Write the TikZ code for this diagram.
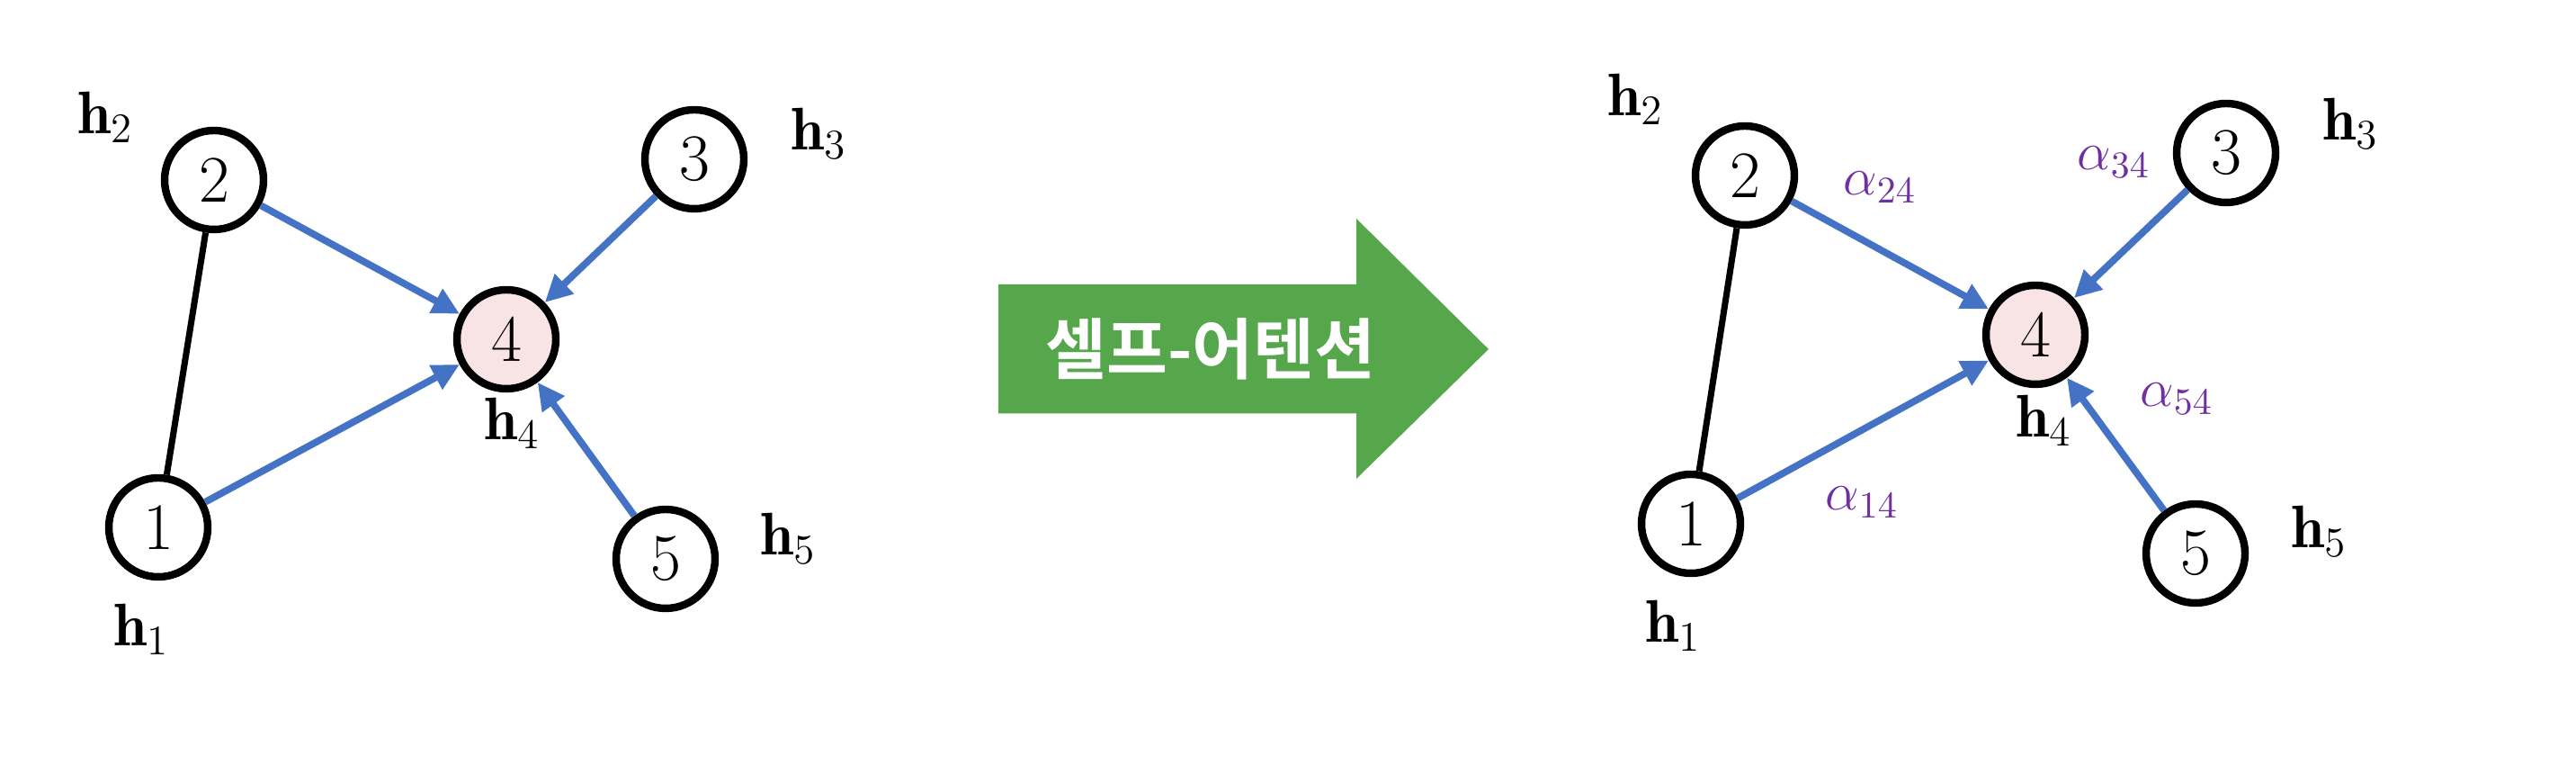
\documentclass[tikz,border=0pt]{standalone}
\usepackage{fix-cm}
\usepackage{amsmath}
\usepackage{fontspec}
\newfontfamily\kofont{Noto Sans CJK KR}[BoldFont={Noto Sans CJK KR Bold}]
\usetikzlibrary{arrows.meta}

\definecolor{edgeblue}{RGB}{68,114,196}
\definecolor{selfpink}{RGB}{248,228,228}
\definecolor{weightpurple}{RGB}{112,48,160}
\definecolor{shiftgreen}{RGB}{86,166,76}

\tikzset{
  vtx/.style={circle, draw, line width=2.4pt, minimum size=1.1cm, inner sep=0pt,
    font=\fontsize{21}{25}\selectfont},
  target/.style={vtx, fill=selfpink},
  attn/.style={draw=edgeblue, line width=2.2pt, -{Triangle[length=3mm,width=2.9mm]}},
  plain/.style={draw=black, line width=2pt},
  hlbl/.style={font=\fontsize{19}{23}\selectfont},
  wlbl/.style={text=weightpurple, font=\fontsize{17}{20}\selectfont},
}

\begin{document}
\begin{tikzpicture}
  \useasboundingbox (0,0) rectangle (28.64,8.5);

  \node [vtx] (l1) at (1.76,2.64) {1};
  \node [vtx] (l2) at (2.38,6.50) {2};
  \node [vtx] (l3) at (7.72,6.73) {3};
  \node [target] (l4) at (5.63,4.73) {4};
  \node [vtx] (l5) at (7.40,2.29) {5};

  \node [hlbl] (lh1) at (1.57,1.51) {$\mathbf{h}_1$};
  \node [hlbl] (lh2) at (1.17,7.20) {$\mathbf{h}_2$};
  \node [hlbl] (lh3) at (9.10,7.02) {$\mathbf{h}_3$};
  \node [hlbl] (lh4) at (5.69,3.80) {$\mathbf{h}_4$};
  \node [hlbl] (lh5) at (8.76,2.52) {$\mathbf{h}_5$};

  \draw [plain] (l1) -- (l2);
  \draw [attn] (l2) -- (l4);
  \draw [attn] (l3) -- (l4);
  \draw [attn] (l1) -- (l4);
  \draw [attn] (l5) -- (l4);

  \fill [shiftgreen] (11.10,3.905) -- (11.10,5.34) -- (15.08,5.34) -- (15.08,6.07)
    -- (16.55,4.62) -- (15.08,3.18) -- (15.08,3.905) -- cycle;
  \node [text=white, font=\kofont\bfseries\fontsize{21}{25}\selectfont] (shift) at (13.46,4.62) {셀프-어텐션};

  \node [vtx] (r1) at (18.80,2.68) {1};
  \node [vtx] (r2) at (19.40,6.55) {2};
  \node [vtx] (r3) at (24.75,6.80) {3};
  \node [target] (r4) at (22.63,4.78) {4};
  \node [vtx] (r5) at (24.41,2.35) {5};

  \node [hlbl] (rh1) at (18.60,1.55) {$\mathbf{h}_1$};
  \node [hlbl] (rh2) at (18.18,7.40) {$\mathbf{h}_2$};
  \node [hlbl] (rh3) at (26.13,7.13) {$\mathbf{h}_3$};
  \node [hlbl] (rh4) at (22.72,3.83) {$\mathbf{h}_4$};
  \node [hlbl] (rh5) at (25.78,2.60) {$\mathbf{h}_5$};

  \draw [plain] (r1) -- (r2);
  \draw [attn] (r2) -- (r4);
  \draw [attn] (r3) -- (r4);
  \draw [attn] (r1) -- (r4);
  \draw [attn] (r5) -- (r4);

  \node [wlbl] (a24) at (20.90,6.42) {$\alpha_{24}$};
  \node [wlbl] (a34) at (23.50,6.70) {$\alpha_{34}$};
  \node [wlbl] (a54) at (24.20,4.07) {$\alpha_{54}$};
  \node [wlbl] (a14) at (20.70,2.92) {$\alpha_{14}$};
\end{tikzpicture}
\end{document}
